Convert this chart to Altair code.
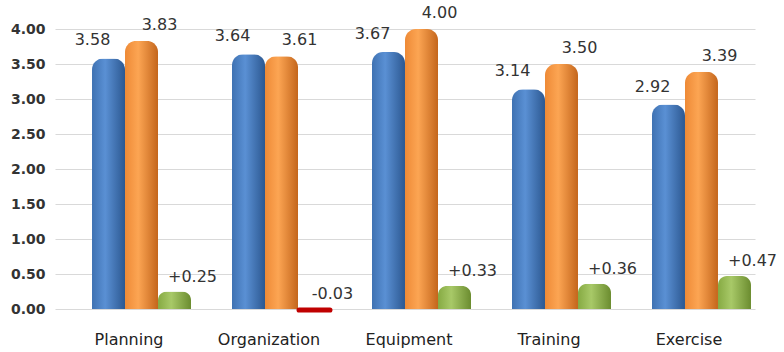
import altair as alt
import pandas as pd

categories = ["Planning", "Organization", "Equipment", "Training", "Exercise"]
before = [3.58, 3.64, 3.67, 3.14, 2.92]
after = [3.83, 3.61, 4.00, 3.50, 3.39]
change = [0.25, -0.03, 0.33, 0.36, 0.47]
y_ticks = [0, 0.5, 1, 1.5, 2, 2.5, 3, 3.5, 4]

rows = []
for c, b, a, d in zip(categories, before, after, change):
    rows.append({"cat": c, "series": "before", "value": b, "ypos": b, "label": f"{b:.2f}"})
    rows.append({"cat": c, "series": "after", "value": a, "ypos": a, "label": f"{a:.2f}"})
    rows.append({"cat": c, "series": "change", "value": d, "ypos": max(d, 0), "label": f"{d:+.2f}"})
df = pd.DataFrame(rows)

FONT = "DejaVu Sans"

x_enc = alt.X("cat:N", sort=categories, title=None,
              scale=alt.Scale(paddingInner=0.0571, paddingOuter=0.0286),
              axis=alt.Axis(labelFontSize=16, labelColor="#222222", labelFont=FONT,
                            labelPadding=22, labelOffset=4, ticks=False, domain=False,
                            labelAngle=0, grid=False))
xo_enc = alt.XOffset("series:N", scale=alt.Scale(domain=["pad", "before", "after", "change"],
                                                 paddingInner=0, paddingOuter=0))
y_scale = alt.Scale(domain=[0, 4.3], nice=False, zero=False)
y_axis = alt.Axis(values=y_ticks, format=".2f", labelOverlap=False,
                  labelFontSize=14, labelFontWeight="bold", labelColor="#333333",
                  labelFont=FONT, labelPadding=10, ticks=False, domain=False,
                  gridColor="#d9d9d9", gridWidth=1.2)
y_enc = alt.Y("value:Q", title=None, scale=y_scale, axis=y_axis)
y_txt = alt.Y("ypos:Q", title=None, scale=y_scale, axis=y_axis)

base = alt.Chart(df)


def grad(c1, c2, c3):
    return alt.LinearGradient(
        gradient="linear", x1=0, x2=1, y1=0, y2=0,
        stops=[alt.GradientStop(color=c1, offset=0),
               alt.GradientStop(color=c2, offset=0.4),
               alt.GradientStop(color=c3, offset=1)])


blue_bar = base.transform_filter("datum.series == 'before'").mark_bar(
    color=grad("#3f72b2", "#5a90d4", "#2c5891"),
    cornerRadiusTopLeft=11, cornerRadiusTopRight=11
).encode(x=x_enc, xOffset=xo_enc, y=y_enc)

orange_bar = base.transform_filter("datum.series == 'after'").mark_bar(
    color=grad("#ee8a36", "#fca553", "#c4661c"),
    cornerRadiusTopLeft=11, cornerRadiusTopRight=11
).encode(x=x_enc, xOffset=xo_enc, y=y_enc)

green_bar = base.transform_filter("datum.series == 'change' && datum.value >= 0").mark_bar(
    color=grad("#86aa43", "#a8c968", "#6b8c2f"),
    cornerRadiusTopLeft=9, cornerRadiusTopRight=9
).encode(x=x_enc, xOffset=xo_enc, y=y_enc)

red_bar = base.transform_filter("datum.series == 'change' && datum.value < 0").mark_bar(
    color="#c00000", stroke="#c00000", strokeWidth=3, cornerRadius=3
).encode(x=x_enc, xOffset=xo_enc, y=y_enc)

txt_style = dict(fontSize=16, font=FONT, color="#333333", baseline="middle", align="center")

blue_txt = base.transform_filter("datum.series == 'before'").mark_text(
    dx=-16, dy=-18, **txt_style
).encode(x=x_enc, xOffset=xo_enc, y=y_txt, text="label:N")

orange_txt = base.transform_filter("datum.series == 'after'").mark_text(
    dx=18, dy=-16, **txt_style
).encode(x=x_enc, xOffset=xo_enc, y=y_txt, text="label:N")

green_txt = base.transform_filter("datum.series == 'change'").mark_text(
    dx=18, dy=-15, **txt_style
).encode(x=x_enc, xOffset=xo_enc, y=y_txt, text="label:N")

chart = alt.layer(blue_bar, orange_bar, green_bar, red_bar,
                  blue_txt, orange_txt, green_txt).properties(
    width=700, height=301,
    autosize=alt.AutoSizeParams(type="none"),
    padding={"left": 55, "top": 8, "right": 29, "bottom": 43},
    background="white",
).configure_view(stroke=None)

chart.save("out.html", embed_options={"renderer": "svg", "actions": False})
